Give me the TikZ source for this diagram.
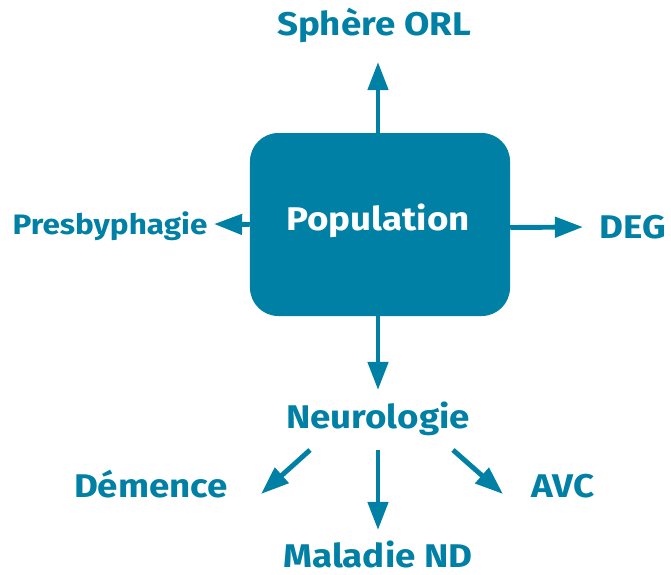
\documentclass[tikz,border=0pt]{standalone}
\usepackage{fontspec}
\setsansfont[FakeStretch=1.12]{Fira Sans}
\usetikzlibrary{arrows.meta}
\definecolor{bleu}{HTML}{0080A5}

\begin{document}
\begin{tikzpicture}[x=0.03cm, y=-0.03cm,
	lab/.style={
		text=bleu,
		anchor=base,
		inner sep=0pt,
		font=\sffamily\bfseries\fontsize{28}{32}\selectfont
	},
	fl/.style={
		draw=bleu,
		line width=4.2pt,
		-{Triangle[length=24pt,width=17pt]}
	}
	]
	\useasboundingbox (0,0) rectangle (671,574);
	
	%Zentrum
	\node[fill=bleu, rounded corners=0.85cm, minimum width=7.8cm, minimum height=5.49cm,
	inner sep=0pt] (pop) at (380,224.5) {};
	\node[lab, text=white] (poptxt) at (378,230) {Population};
	
	\node[lab] (sph)  at (374,35)  {Sphère ORL};
	\node[lab, font=\sffamily\bfseries\fontsize{24}{28}\selectfont] (pres) at (110,234) {Presbyphagie};
	\node[lab] (deg)  at (633,238) {DEG};
	\node[lab] (neur) at (378,428) {Neurologie};
	\node[lab] (dem)  at (151,497) {Démence};
	\node[lab] (avc)  at (563,497) {AVC};
	\node[lab] (mal)  at (378,567) {Maladie ND};
	
	\draw[fl] ([shift={(-2,0)}]pop.north) -- ([shift={(4,27)}]sph.base);
	\draw[fl] (pop.west) -- ([shift={(104,-10)}]pres.base);
	\draw[fl] ([shift={(0,3)}]pop.east) -- ([shift={(-50,-11)}]deg.base);
	\draw[fl] ([shift={(-2,0)}]pop.south) -- ([shift={(0,-38)}]neur.base);
	
	\draw[fl] ([shift={(-68,22)}]neur.base) -- ([shift={(110,-3)}]dem.base);
	\draw[fl] ([shift={(0,22)}]neur.base) -- ([shift={(0,-37)}]mal.base);
	\draw[fl] ([shift={(75,22)}]neur.base) -- ([shift={(-60,-3)}]avc.base);
\end{tikzpicture}
\end{document}
